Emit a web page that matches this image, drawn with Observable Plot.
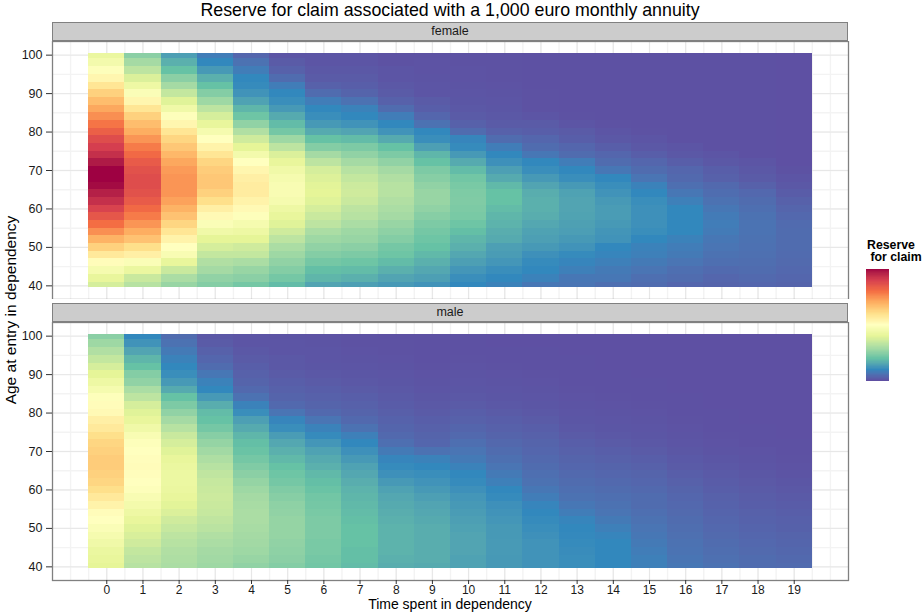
<!DOCTYPE html>
<html>
<head>
<meta charset="utf-8">
<script src="https://cdn.jsdelivr.net/npm/d3@7"></script>
<script src="https://cdn.jsdelivr.net/npm/@observablehq/plot@0.6"></script>
<style>
  body { margin: 0; background: #fff; }
  #chart { position: relative; width: 922px; height: 613px; overflow: hidden;
           font-family: "Liberation Sans", Arial, Helvetica, sans-serif; color: #1a1a1a; background: #fff; }
  .abs { position: absolute; }
  .title { left: 52px; width: 796px; top: 0px; text-align: center; font-size: 17.8px; line-height: 20px; color: #000; white-space: nowrap; }
  .strip { left: 52px; width: 796px; height: 19px; background: #cccccc; border: 1.3px solid #808080;
           box-sizing: border-box; text-align: center; font-size: 12.5px; line-height: 17px; color: #1a1a1a; }
  .ylab { left: -189px; top: 302px; width: 400px; height: 16px; text-align: center; font-size: 15.5px; line-height: 16px;
          transform: rotate(-90deg); color: #000; }
  .xlab { left: 52px; width: 796px; top: 596.8px; text-align: center; font-size: 14px; line-height: 15.6px; color: #000; }
  .legtitle { left: 867px; top: 240px; font-size: 12.3px; font-weight: bold; line-height: 11.5px; white-space: pre; color: #000; }
</style>
</head>
<body>
<div id="chart">
  <div class="abs strip" style="top:22px">female</div>
  <div class="abs" id="pf" style="left:0;top:41px"></div>
  <div class="abs strip" style="top:303px">male</div>
  <div class="abs" id="pm" style="left:0;top:322px"></div>
  <div class="abs title">Reserve for claim associated with a 1,000 euro monthly annuity</div>
  <div class="abs ylab">Age at entry in dependency</div>
  <div class="abs xlab">Time spent in dependency</div>
  <div class="abs legtitle">Reserve
 for claim</div>
  <div class="abs" id="leg" style="left:866px;top:269px"></div>
</div>
<script>
// ---- Data (relative reserve level, 0 = lowest, 100 = highest) ----
const times = [0,1,2,3,4,5,6,7,8,9,10,11,12,13,14,15,16,17,18,19];
const ages = [40,42,44,46,48,50,52,54,56,58,60,62,64,66,68,70,72,74,76,78,80,82,84,86,88,90,92,94,96,98,100];
const yTicks = [40,50,60,70,80,90,100];

// one row per time spent (0..19), one value per age at entry (40..100, step 2)
const femaleReserve = [
  [37,41,46,51,57,63,69,75,80,85,89,93,96,99,100,100,97,93,90,87,83,79,75,71,67,63,58,53,49,45,42],
  [32,35,42,48,55,60,66,70,74,78,81,84,86,87,87,86,84,81,78,74,70,67,63,58,53,48,43,38,33,29,25],
  [27,30,35,41,47,50,54,58,62,66,69,72,74,74,74,73,71,68,65,62,58,53,49,44,39,34,29,25,20,17,14],
  [24,26,29,31,34,37,40,44,48,52,55,60,63,65,65,64,62,58,54,50,46,41,37,33,28,24,20,17,13,10,8],
  [22,25,27,30,34,36,40,43,46,49,52,54,56,56,55,53,50,45,40,36,31,26,21,18,14.5,12,10.5,10,8,6,4],
  [19,22,24,26,28,30,33,36,39,41,43,46,47,47,46,44,41,38,33,28,22,19,16,13,11,10,8,5,3,2,1],
  [15,18,19.5,22,24,26,28,30,33,35,37,39,40,39.5,38.5,37,33,29,24,20,16,13,11,10,8,5,3,2,1.5,1,1],
  [14,17,19,21,23,25,27,28,30,32,33,35,36,35.5,34,32,29,26,23,19,15,12,10,9,6,3.5,2.5,2,1.5,1,1],
  [13,15,17,19,21,22,24,25.5,27,29,30,31,32,32,31,29,26,23,20,16,12,10,8,5,3,2,1.5,1,1,0.5,0.5],
  [12,14,15.5,17,18.5,20,21,22,23,24.5,26,27,27,26,24.5,23,20,18,14,11,10,6,4,2.5,2,1,1,0.8,0.7,0.6,0.5],
  [10,11,12.5,14,15.5,17,18,19.5,21,22.5,23,23.5,23.2,22.5,21.5,19,16,13,10.5,9.5,5,3,2,1.5,1.2,1,0.8,0.7,0.6,0.5,0.5],
  [9,10,11,12.5,13.5,14,16,16.5,17.5,18,19,20,20,18.5,16,14,11.5,10,8,5,3,2,1.5,1.2,1,0.8,0.6,0.5,0.5,0.5,0.5],
  [7,9,10,10.5,11.5,13,14,14.5,15.5,16.5,17,17,16.5,15,13,11,10,7,5,4,2.5,2,1,0.5,0.5,0.5,0.4,0.4,0.4,0.4,0.4],
  [6.5,7,8.5,9.5,10.5,12,13,13.8,14.3,14.7,15,15,14.5,13,11,10,8,5,4,2.5,2,1,0.5,0.4,0.4,0.4,0.4,0.4,0.4,0.4,0.4],
  [5.5,7,7.5,8.5,9.5,10,12,12.3,13,13.5,13.5,13,12,11,10,7,5,4,2.5,1.5,1,0.5,0.4,0.4,0.3,0.3,0.3,0.3,0.3,0.3,0.3],
  [5,5.5,6.5,7.5,8.5,9,10,11,11.5,11.5,11.5,11,10,9,6.5,5,4,2.5,1.5,1,0.5,0.3,0.3,0.3,0.3,0.3,0.3,0.3,0.3,0.3,0.3],
  [4,5,5.5,6.5,7.5,8,9,10,10,10,10,8.5,7,5.5,4.5,4,2.5,1.5,1,0.4,0.3,0.3,0.3,0.3,0.3,0.3,0.3,0.3,0.3,0.3,0.3],
  [3.5,4,4.7,5.5,6,6.5,7,7.7,8,7.7,7,6,5.2,4.5,3,2.5,1.5,1,0.4,0.3,0.3,0.3,0.3,0.3,0.3,0.3,0.3,0.3,0.3,0.3,0.3],
  [4,4.5,5,5.3,5.6,5.8,6,6.3,6.3,6,5.5,5,4.3,3,2,1.5,1,0.4,0.3,0.3,0.3,0.3,0.3,0.3,0.3,0.3,0.3,0.3,0.3,0.3,0.3],
  [3.5,4,4.3,4.6,4.8,5,5,5,4.8,4.3,3.7,3,2.2,1.5,1,0.5,0.2,0.2,0.2,0.2,0.2,0.2,0.2,0.2,0.2,0.2,0.2,0.2,0.2,0.2,0.2]
];

const maleReserve = [
  [40,41,42,44,46,48,50,51,54,57,60,62,63,64,64,63,62,60,57,55,52,51,49,46,43,40,37,34,31,28,25],
  [32,33,34,36,37.5,39,41,43,45,47,49,50,50.5,51,50.5,50,49,47,44,41,39,37,33,30,26,24,20,18,15,12,10],
  [30,30.5,31,32,33,34.5,36,38,39.5,41,42,42.5,42.5,42,41,39,37,35,32,29,26,23,20,16,13,11,10,9,7.5,6,5],
  [28,28.5,29,30,31,32.5,33.5,34.5,35,35.5,35,34.5,33.5,32,30.5,28.5,26.5,24.5,22,20,19,16.5,13,10,9,7,5,4,3,2,1.5],
  [26,27,28,28.5,29,29.5,30,30,29.5,29,28,26.5,25,23.5,22,20.5,19.5,18,16,14,11,9,6,4.5,3.5,3,2.5,2,1.5,1,1],
  [24,25,25.5,26,26.5,26.5,26.5,26,25.5,24.5,23.5,22,21,20,18.5,17,15.5,13.5,11,9.5,6.5,4.5,3.5,3,2.5,2,1.5,1.5,1,1,0.8],
  [21.5,22,22.5,22.5,23,23,23,22.5,22,21.5,20.5,19.5,18.5,17,16,14.5,12.5,10.5,9,6.5,4.5,3.5,3,2.5,2,1.5,1.2,1,1,0.8,0.6],
  [19,19.5,19.5,20,20,20,19.5,19,18.5,18,17.5,16.5,15.5,14.5,13,11.5,10,8.5,6,4.5,3.5,3,2.5,2,1.5,1.2,1,0.8,0.7,0.5,0.5],
  [16.5,17,17.5,17.5,17.5,17.5,17,16.5,16,15.5,14.5,13,11.5,10.5,9.5,7.5,5.5,4.5,3.8,3.2,2.7,2.2,1.8,1.5,1.2,1,0.8,0.6,0.5,0.5,0.4],
  [16,16.5,16.5,16.5,16.5,16.5,16,15.5,15,14,13,12,11,10,9,6,4,3.5,3,2.5,2,1.6,1.3,1,0.8,0.6,0.5,0.4,0.4,0.3,0.3],
  [14.5,14.5,15,15,15,14.5,14,13.5,13,12.5,11.5,10.5,10,9,7.5,6.5,5.5,4.5,3.8,3,2.5,2,1.5,1.2,1,0.8,0.6,0.5,0.4,0.3,0.3],
  [13,13,13.2,13.2,13,13,12.5,12,11.5,10.5,10,8.5,7.5,6.5,5.7,5,4.2,3.5,3,2.5,2,1.5,1.2,1,0.8,0.6,0.5,0.4,0.3,0.2,0.2],
  [12,12,12,12,11.5,11,10.5,10,9.5,8,7,6,5.5,5,4.5,4,3.5,3,2.5,2,1.5,1.2,1,0.8,0.6,0.5,0.4,0.3,0.3,0.2,0.2],
  [11,11,10.8,10.5,10.2,10,9.5,8,7,6,5.5,5,4.5,4,3.5,3,2.5,2,1.5,1.2,1,0.8,0.6,0.5,0.4,0.4,0.3,0.3,0.2,0.2,0.2],
  [10,10,10,10,9.5,8.5,7.5,6.5,6,5.5,5,4.5,4,3.5,3,2.5,2,1.5,1.2,1,0.8,0.6,0.5,0.4,0.3,0.3,0.2,0.2,0.2,0.2,0.2],
  [8.5,8.5,8,7.5,7,6.5,6,5.5,5,5,4.5,4,3.5,3,2.5,2,1.5,1.2,1,0.8,0.6,0.5,0.4,0.3,0.3,0.2,0.2,0.2,0.2,0.2,0.2],
  [7,6.6,6.3,6,5.6,5.3,5,4.6,4.3,4,3.5,3,2.5,2,1.7,1.3,1,0.8,0.6,0.5,0.4,0.3,0.3,0.2,0.2,0.2,0.2,0.2,0.2,0.2,0.2],
  [6,5.6,5.3,5,4.6,4.3,4,3.6,3.3,3,2.6,2.2,1.8,1.5,1.2,0.9,0.7,0.5,0.4,0.3,0.3,0.2,0.2,0.2,0.2,0.2,0.2,0.2,0.2,0.2,0.2],
  [5,5,4.6,4.3,4,3.6,3.3,3,2.6,2.3,2,1.6,1.3,1,0.8,0.6,0.4,0.3,0.3,0.2,0.2,0.2,0.2,0.2,0.2,0.2,0.2,0.2,0.2,0.2,0.2],
  [4.8,4.5,4.1,3.8,3.5,3.1,2.8,2.5,2.1,1.8,1.5,1.2,0.9,0.7,0.5,0.4,0.3,0.2,0.2,0.2,0.2,0.2,0.2,0.2,0.2,0.2,0.2,0.2,0.2,0.2,0.2]
];

// Spectral (reversed: low = purple, high = dark red)
const spectralColors = ["#5e4fa2","#3288bd","#66c2a5","#abdda4","#e6f598","#ffffbf","#fee08b","#fdae61","#f46d43","#d53e4f","#9e0142"];
const colorStops = [0,10,20,30,40,50,60,70,80,90,100];

// ---- Build ----
const colorScale = {type: "linear", domain: colorStops, range: spectralColors, interpolate: "lab", clamp: true};
const fontFamily = '"Liberation Sans", Arial, Helvetica, sans-serif';
const ageLo = ages[0] - 0.5, ageHi = ages[ages.length - 1] + 0.5;
const tLo = times[0] - 0.5, tHi = times[times.length - 1] + 0.5;
// ggplot-like 5% expansion of continuous scales
const xDom = [tLo - 0.05 * (tHi - tLo), tHi + 0.05 * (tHi - tLo)];
const yDom = [ageLo - 0.05 * (ageHi - ageLo), ageHi + 0.05 * (ageHi - ageLo)];
const xMinor = d3.range(times[0] - 1, times[times.length - 1] + 1.01, 0.5);
const yMinor = d3.range(yTicks[0], yTicks[yTicks.length - 1] + 0.01, 5);

function tableOf(values) {
  const rows = [];
  times.forEach((t, i) => ages.forEach((a, j) => rows.push({t, age: a, v: values[i][j]})));
  return rows;
}

function panel(values, withX) {
  return Plot.plot({
    width: 850,
    height: withX ? 291 : 258,
    marginLeft: 52, marginRight: 2, marginTop: 0, marginBottom: withX ? 33 : 0,
    x: {domain: xDom, axis: null},
    y: {domain: yDom, axis: null},
    color: colorScale,
    style: {fontFamily, fontSize: "12.5px", color: "#1a1a1a", background: "white"},
    marks: [
      Plot.gridX(xMinor, {stroke: "#f3f3f3", strokeOpacity: 1, strokeWidth: 1.4}),
      Plot.gridY(yMinor, {stroke: "#f3f3f3", strokeOpacity: 1, strokeWidth: 1.4}),
      Plot.gridX(times, {stroke: "#e3e3e3", strokeOpacity: 1, strokeWidth: 0.8}),
      Plot.gridY(yTicks, {stroke: "#e3e3e3", strokeOpacity: 1, strokeWidth: 0.8}),
      Plot.rect(tableOf(values), {
        x1: d => d.t - 0.5, x2: d => d.t + 0.5,
        y1: d => Math.max(d.age - 1, ageLo), y2: d => Math.min(d.age + 1, ageHi),
        fill: "v", shapeRendering: "crispEdges"
      }),
      Plot.frame({stroke: "#808080", strokeWidth: 1.3}),
      Plot.axisY(yTicks, {tickSize: 6, tickPadding: 4, fontSize: 12.5, stroke: "#333", fill: "#1a1a1a", label: null}),
      withX ? Plot.axisX(times, {tickSize: 4, tickPadding: 1, fontSize: 12, stroke: "#333", fill: "#1a1a1a", label: null}) : null
    ]
  });
}

document.getElementById("pf").append(panel(femaleReserve, false));
document.getElementById("pm").append(panel(maleReserve, true));

// legend colour bar (vertical), drawn through the same colour scale
const legendSteps = d3.range(colorStops[0], colorStops[colorStops.length - 1], 0.5);
document.getElementById("leg").append(Plot.plot({
  width: 23, height: 112, margin: 0,
  x: {axis: null},
  y: {domain: [colorStops[0], colorStops[colorStops.length - 1]], axis: null},
  color: colorScale,
  style: {background: "transparent"},
  marks: [
    Plot.rect(legendSteps, {y1: d => d, y2: d => d + 0.5, fill: d => d, shapeRendering: "crispEdges"})
  ]
}));
</script>
</body>
</html>
